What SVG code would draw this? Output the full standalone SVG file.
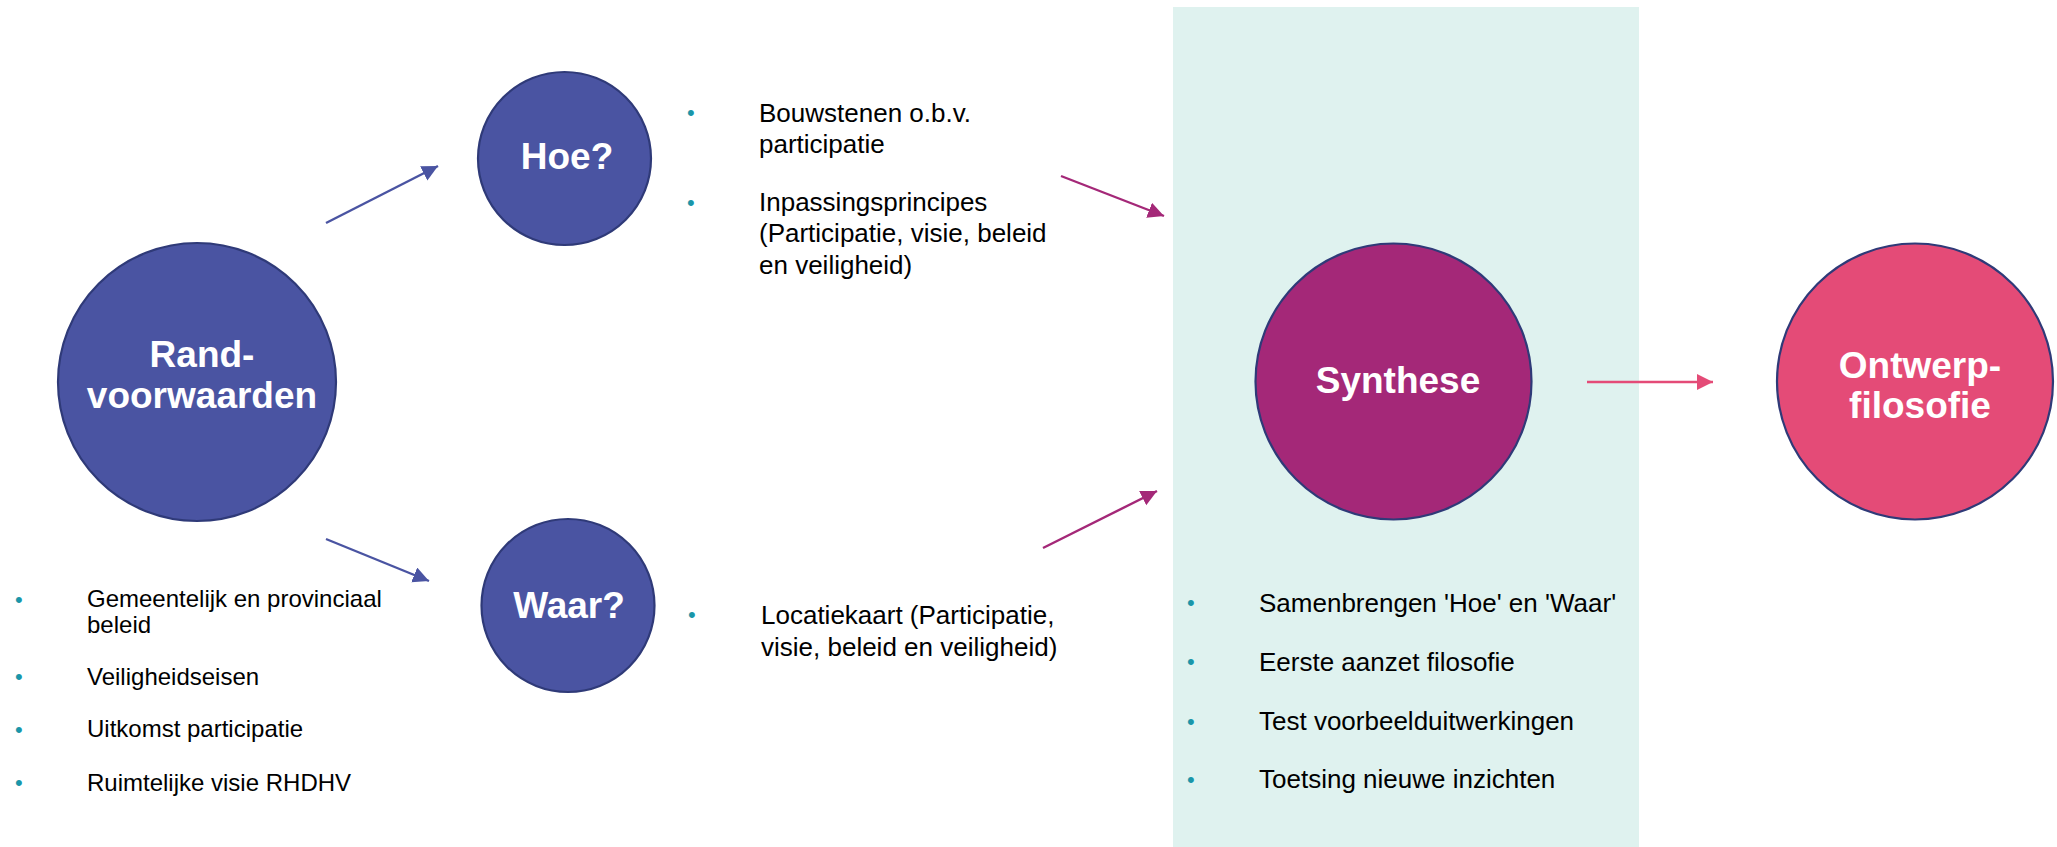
<svg xmlns="http://www.w3.org/2000/svg" width="2057" height="847" viewBox="0 0 2057 847">
<style>
.title{font-family:"Liberation Sans",Arial,sans-serif;font-weight:bold;font-size:37px;fill:#ffffff;text-anchor:middle}
.item{font-family:"Liberation Sans",Arial,sans-serif;font-size:26px;fill:#000000}
.small{font-size:24px}
.bul{font-family:"Liberation Sans",Arial,sans-serif;font-size:22px;fill:#1A96A9}
.node{stroke:#2F3A78;stroke-width:2.2}
.blue{fill:#4A54A2}
.line{fill:none;stroke-width:2.4}
</style>
<defs>
<marker id="ahBlue" markerUnits="userSpaceOnUse" markerWidth="18" markerHeight="18" refX="16" refY="8" orient="auto"><path d="M0,0 L16,8 L0,16 Z" fill="#4A54A2"/></marker>
<marker id="ahMag" markerUnits="userSpaceOnUse" markerWidth="18" markerHeight="18" refX="16" refY="8" orient="auto"><path d="M0,0 L16,8 L0,16 Z" fill="#A42878"/></marker>
<marker id="ahPink" markerUnits="userSpaceOnUse" markerWidth="18" markerHeight="18" refX="16" refY="8" orient="auto"><path d="M0,0 L16,8 L0,16 Z" fill="#E44B77"/></marker>
</defs>
<rect x="0" y="0" width="2057" height="847" fill="#ffffff"/>
<rect id="synthese-panel" x="1173" y="7" width="466" height="840" fill="#DFF2EF"/>

<g id="connectors">
<line class="line" x1="326" y1="223" x2="438" y2="166" stroke="#4A54A2" marker-end="url(#ahBlue)"/>
<line class="line" x1="326" y1="539" x2="429" y2="581" stroke="#4A54A2" marker-end="url(#ahBlue)"/>
<line class="line" x1="1061" y1="176" x2="1164" y2="216" stroke="#A42878" marker-end="url(#ahMag)"/>
<line class="line" x1="1043" y1="548" x2="1157" y2="491" stroke="#A42878" marker-end="url(#ahMag)"/>
<line class="line" x1="1587" y1="382" x2="1713" y2="382" stroke="#E44B77" marker-end="url(#ahPink)"/>
</g>

<g id="randvoorwaarden">
<circle class="node blue" cx="197" cy="382" r="139"/>
<text class="title" x="202" y="367">Rand-</text>
<text class="title" x="202" y="408">voorwaarden</text>
</g>

<g id="randvoorwaarden-list">
<text class="bul" x="15" y="607">•</text>
<text class="item small" x="87" y="607">Gemeentelijk en provinciaal</text>
<text class="item small" x="87" y="633">beleid</text>
<text class="bul" x="15" y="684">•</text>
<text class="item small" x="87" y="685">Veiligheidseisen</text>
<text class="bul" x="15" y="737">•</text>
<text class="item small" x="87" y="737">Uitkomst participatie</text>
<text class="bul" x="15" y="790">•</text>
<text class="item small" x="87" y="791">Ruimtelijke visie RHDHV</text>
</g>

<g id="hoe">
<circle class="node blue" cx="564.5" cy="158.5" r="86.5"/>
<text class="title" x="567" y="169">Hoe?</text>
</g>

<g id="hoe-list">
<text class="bul" x="687" y="120">•</text>
<text class="item" x="759" y="122">Bouwstenen o.b.v.</text>
<text class="item" x="759" y="153">participatie</text>
<text class="bul" x="687" y="210">•</text>
<text class="item" x="759" y="211">Inpassingsprincipes</text>
<text class="item" x="759" y="242">(Participatie, visie, beleid</text>
<text class="item" x="759" y="274">en veiligheid)</text>
</g>

<g id="waar">
<circle class="node blue" cx="568" cy="605.5" r="86.5"/>
<text class="title" x="569" y="618">Waar?</text>
</g>

<g id="waar-list">
<text class="bul" x="688" y="622">•</text>
<text class="item" x="761" y="624">Locatiekaart (Participatie,</text>
<text class="item" x="761" y="656">visie, beleid en veiligheid)</text>
</g>

<g id="synthese">
<circle class="node" cx="1393.5" cy="381.5" r="138" fill="#A42878"/>
<text class="title" x="1398" y="393">Synthese</text>
</g>

<g id="synthese-list">
<text class="bul" x="1187" y="610">•</text>
<text class="item" x="1259" y="612">Samenbrengen 'Hoe' en 'Waar'</text>
<text class="bul" x="1187" y="669">•</text>
<text class="item" x="1259" y="671">Eerste aanzet filosofie</text>
<text class="bul" x="1187" y="729">•</text>
<text class="item" x="1259" y="730">Test voorbeelduitwerkingen</text>
<text class="bul" x="1187" y="787">•</text>
<text class="item" x="1259" y="788">Toetsing nieuwe inzichten</text>
</g>

<g id="ontwerpfilosofie">
<circle class="node" cx="1915" cy="381.5" r="138" fill="#E44B77"/>
<text class="title" x="1920" y="378">Ontwerp-</text>
<text class="title" x="1920" y="418">filosofie</text>
</g>
</svg>
